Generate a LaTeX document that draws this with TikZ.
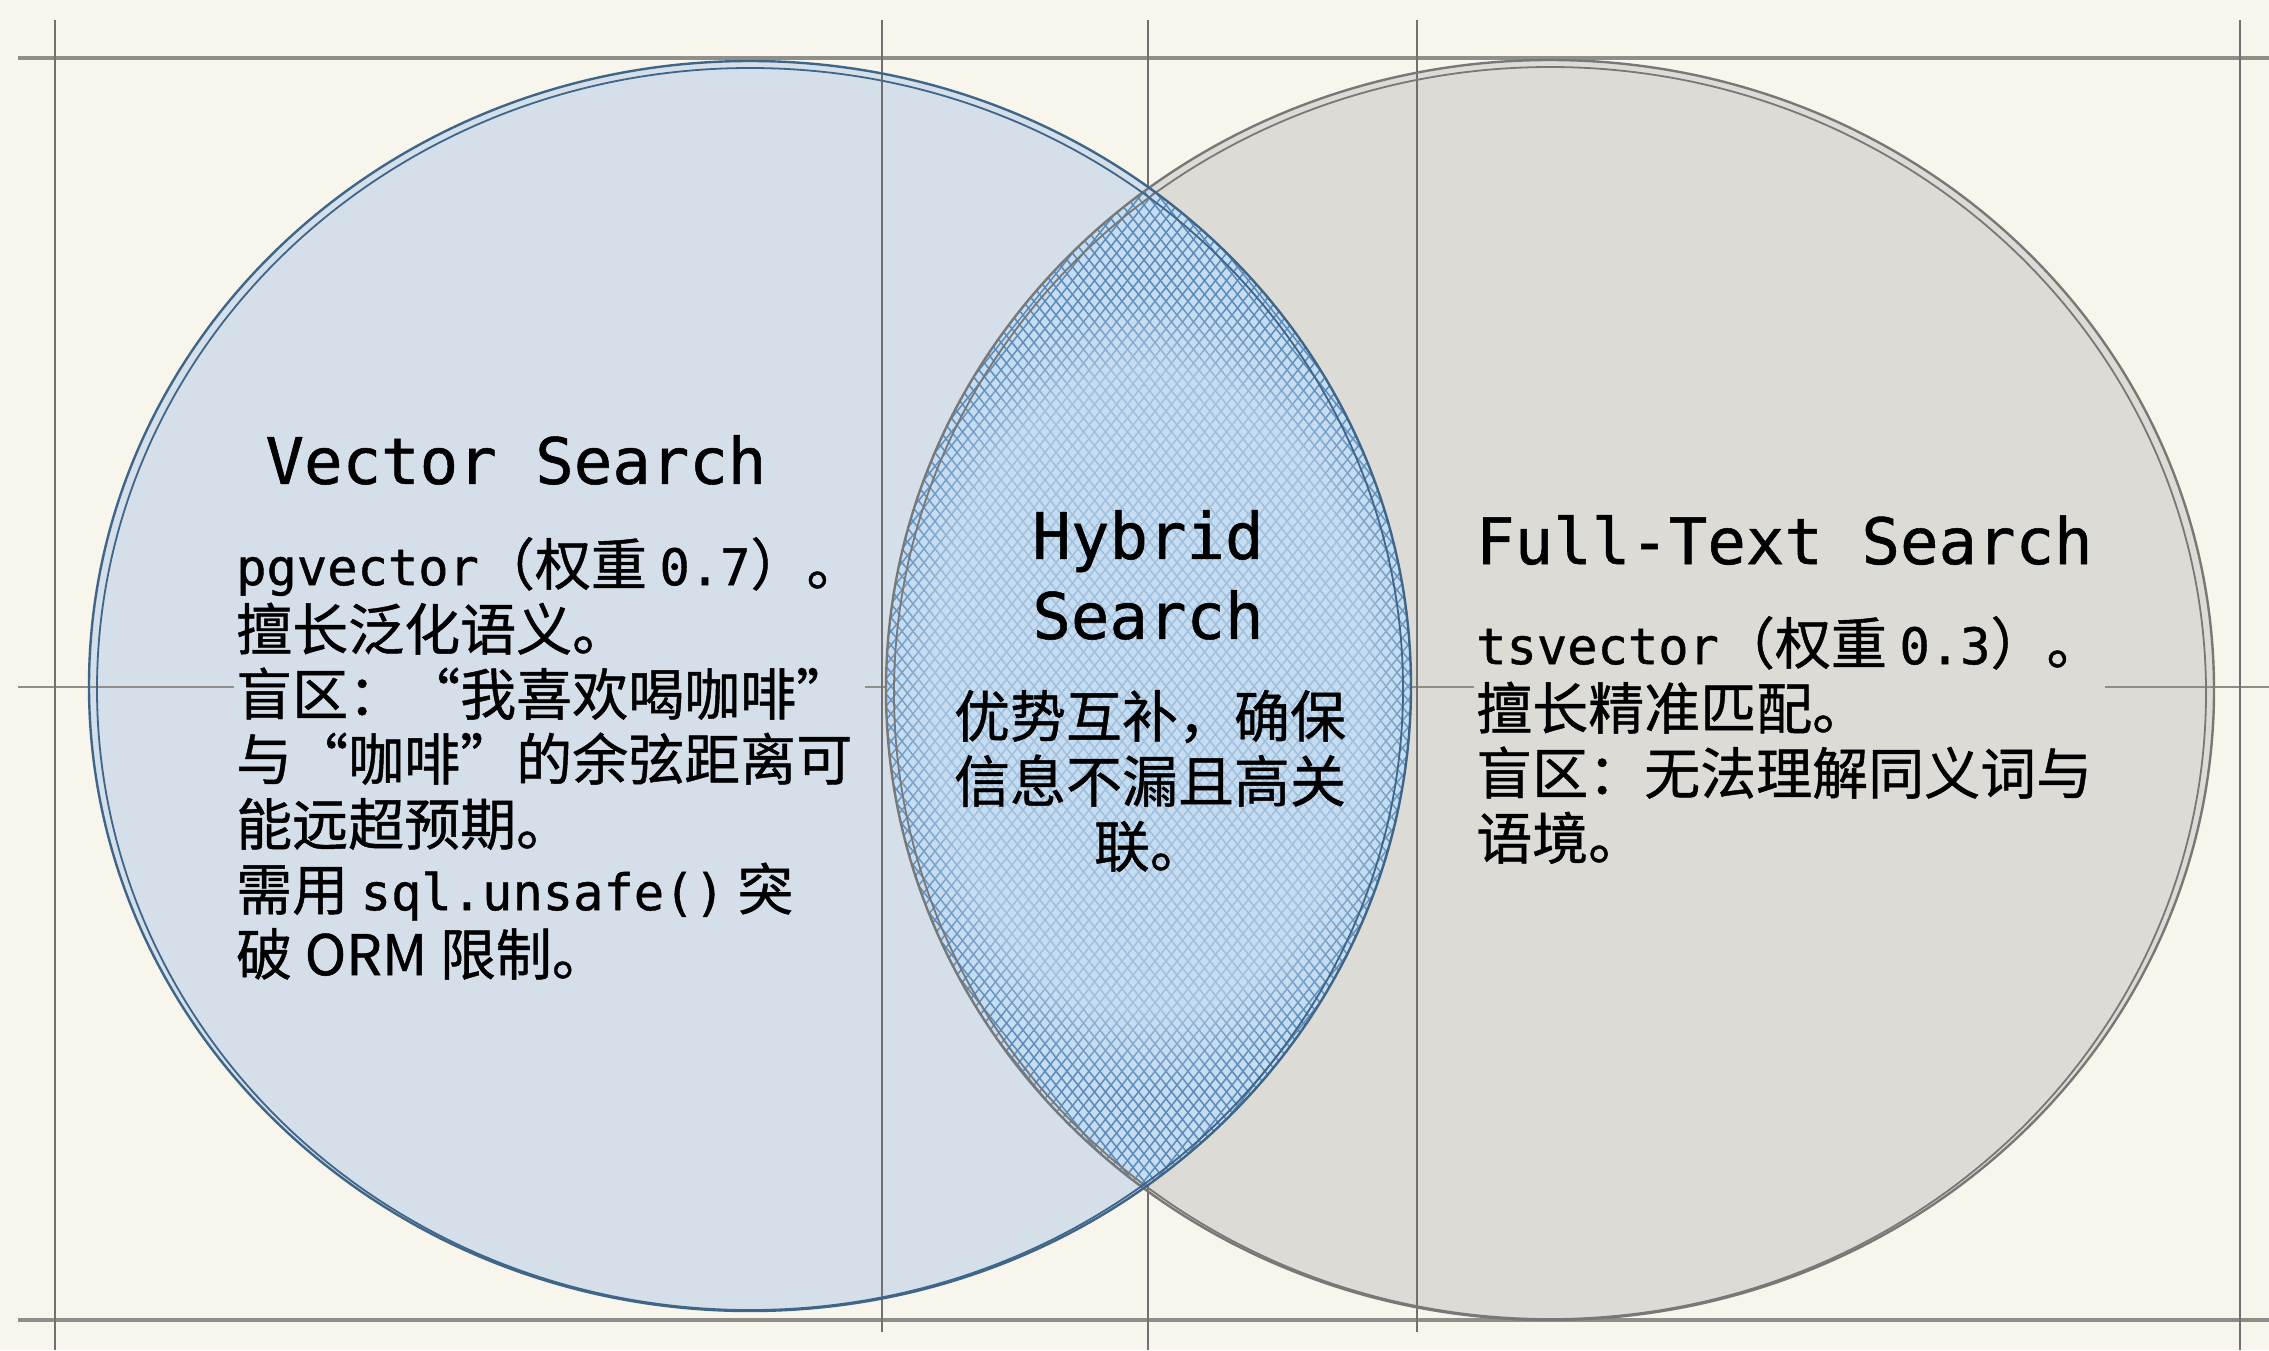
\documentclass[tikz,border=0pt]{standalone}
\usepackage{fontspec}
\usetikzlibrary{fadings}
\setmainfont{DejaVu Sans Mono}
\newfontfamily\cjk[FakeBold=0.8]{Noto Sans CJK SC}
\newfontfamily\monoh[FakeBold=0.8]{DejaVu Sans Mono}
\newfontfamily\monob[Scale=0.9,FakeBold=0.8]{DejaVu Sans Mono}
\definecolor{bgc}{HTML}{F7F5EC}
\definecolor{leftfill}{HTML}{D4DFEA}
\definecolor{rightfill}{HTML}{DCDBD6}
\definecolor{hybfill}{HTML}{C6DCF0}
\definecolor{hatchc}{HTML}{5B8CBC}
\definecolor{leftline}{HTML}{3F6588}
\definecolor{rightline}{HTML}{787876}
\definecolor{gridc}{HTML}{8E8E8A}
\definecolor{gridthin}{HTML}{707070}
\tikzset{
  gridthick/.style={draw=gridc, line width=3.5pt},
  gridline/.style={draw=gridthin, line width=1.4pt},
  gridmid/.style={draw=gridc, line width=1.8pt},
  hatchline/.style={draw=hatchc, line width=1.5pt},
  head/.style={font=\monoh\fontsize{64}{80}\selectfont, text=black, inner sep=2pt, align=center},
  body/.style={font=\fontsize{56}{65}\selectfont, text=black, inner sep=2pt},
}
\begin{document}
\begin{tikzpicture}[x=1pt, y=-1pt]
\useasboundingbox (0,0) rectangle (2269,1350);
\fill[bgc] (0,0) rectangle (2269,1350);
% circle fills
\fill[leftfill] (750,686) ellipse [x radius=661, y radius=625];
\fill[rightfill] (1550,690) ellipse [x radius=664, y radius=630];
% grid
\draw[gridthick] (18,58) -- (2269,58);
\draw[gridthick] (18,1320) -- (2269,1320);
\draw[gridmid] (18,687) -- (2269,687);
\draw[gridline] (55,20) -- (55,1350);
\draw[gridline] (882,20) -- (882,1332);
\draw[gridline] (1148,20) -- (1148,1350);
\draw[gridline] (1417,20) -- (1417,1332);
\draw[gridline] (2240,20) -- (2240,1350);
% intersection
\begin{scope}
  \clip (750,686) ellipse [x radius=661, y radius=625];
  \clip (1550,690) ellipse [x radius=664, y radius=630];
  \fill[hybfill] (800,100) rectangle (1500,1300);
  \foreach \i in {0,...,130} {
    \draw[hatchline] ({\i*11},150) -- ++(880,1100);
    \draw[hatchline] ({880+\i*11},150) -- ++(-880,1100);
  }
  \fill[hybfill, fill opacity=0.65, path fading=circle with fuzzy edge 20 percent]
    (1150,690) ellipse [x radius=270, y radius=400];
\end{scope}
% outlines (double strokes)
\draw[rightline, line width=2.4pt] (1550,690) ellipse [x radius=664, y radius=630];
\draw[rightline, line width=1.8pt] (1550,693) ellipse [x radius=656, y radius=626];
\draw[leftline, line width=2.4pt] (750,686) ellipse [x radius=661, y radius=625];
\draw[leftline, line width=1.8pt] (750,689) ellipse [x radius=653, y radius=621];
% texts
\node[head, fill=leftfill] (vhead) at (516,460) {Vector Search};
\node[body, fill=leftfill, align=left, anchor=north west] (vbody) at (234,535)
  {{\monob pgvector}{\cjk （权重 }{\monob 0.7}{\cjk ）。}\\
   {\cjk 擅长泛化语义。}\\
   {\cjk 盲区：“我喜欢喝咖啡”}\\
   {\cjk 与“咖啡”的余弦距离可}\\
   {\cjk 能远超预期。}\\
   {\cjk 需用 }{\monob sql.unsafe()}{\cjk\ 突}\\
   {\cjk 破 ORM 限制。}};
\node[head] (hhead) at (1148,575) {Hybrid\\Search};
\node[body, align=center] (hbody) at (1150,781)
  {{\cjk 优势互补，确保}\\{\cjk 信息不漏且高关}\\{\cjk 联。}};
\node[head, fill=rightfill, anchor=west] (fhead) at (1474,540) {Full-Text Search};
\node[body, fill=rightfill, align=left, anchor=north west] (fbody) at (1474,614)
  {{\monob tsvector}{\cjk （权重 }{\monob 0.3}{\cjk ）。}\\
   {\cjk 擅长精准匹配。}\\
   {\cjk 盲区：无法理解同义词与}\\
   {\cjk 语境。}};
\end{tikzpicture}
\end{document}
